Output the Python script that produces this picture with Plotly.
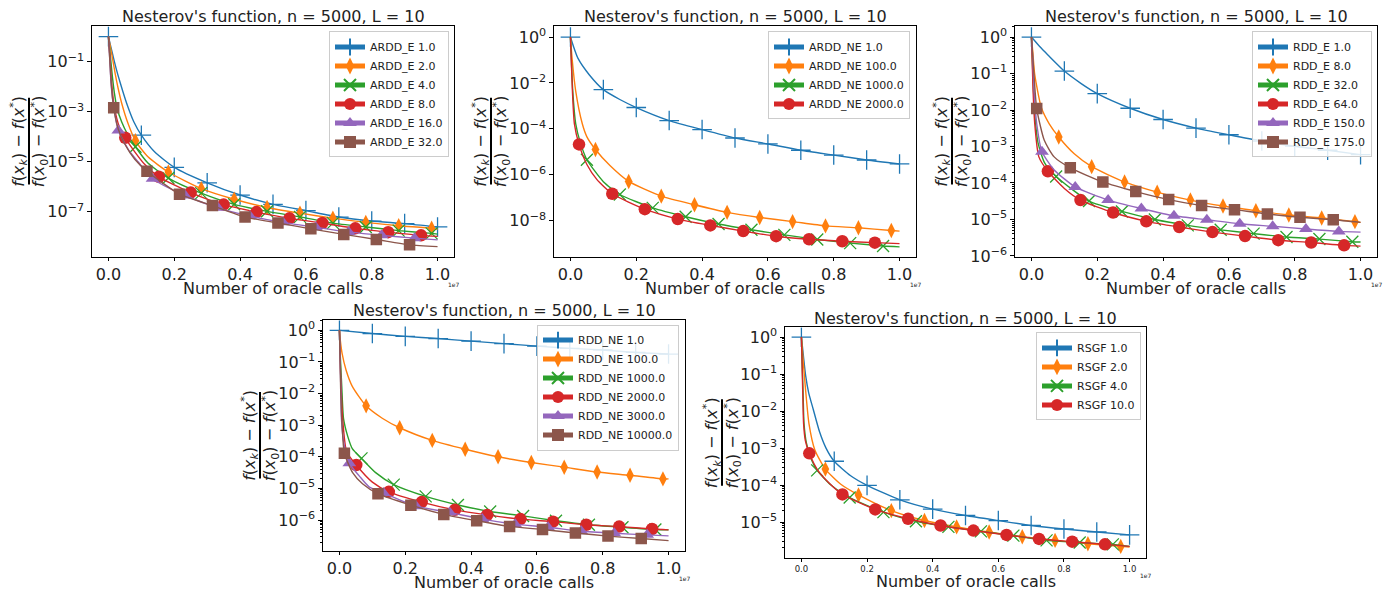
import plotly.graph_objects as go

W, H = 1387, 601
FONT = "DejaVu Sans"
TXT = "#222222"

# ---------------- tick labels ----------------
X_TICKVALS = [0.0, 0.2, 0.4, 0.6, 0.8, 1.0]          # units of 1e7 oracle calls
X_TICKTEXT = ["0.0", "0.2", "0.4", "0.6", "0.8", "1.0"]
Y_DECADES = [0, -1, -2, -3, -4, -5, -6, -7, -8]
Y_TICKTEXT = ["10<sup>0</sup>", "10<sup>−1</sup>", "10<sup>−2</sup>", "10<sup>−3</sup>",
              "10<sup>−4</sup>", "10<sup>−5</sup>", "10<sup>−6</sup>", "10<sup>−7</sup>",
              "10<sup>−8</sup>"]
P1_YTICKS = [-1, -3, -5, -7]
P2_YTICKS = [0, -2, -4, -6, -8]
P3_YTICKS = [0, -1, -2, -3, -4, -5, -6]
P4_YTICKS = [0, -1, -2, -3, -4, -5, -6]
P5_YTICKS = [0, -1, -2, -3, -4, -5]

TITLE = "Nesterov's function, n = 5000, L = 10"
XLABEL = "Number of oracle calls"

# ---------------- panel 1 : ARDD_E ----------------
A1_MX = [0.0, 0.1, 0.2, 0.3, 0.4, 0.5, 0.6, 0.7, 0.8, 0.9, 1.0]
A1_MY = [1.0, 1.15e-4, 6.0e-6, 1.45e-6, 4.7e-7, 2.0e-7, 1.12e-7, 6.2e-8, 4.3e-8, 3.4e-8, 2.5e-8]
A1_CX = [0.008, 0.018, 0.028, 0.044, 0.059, 0.077, 0.14]
A1_CY = [0.355, 0.1, 0.0316, 6.3e-3, 1.58e-3, 3.98e-4, 2.5e-5]

A2_MX = [0.082, 0.182, 0.282, 0.382, 0.482, 0.582, 0.682, 0.782, 0.882, 0.982]
A2_MY = [6.9e-5, 3.9e-6, 8.5e-7, 3.2e-7, 1.5e-7, 8.9e-8, 5.6e-8, 3.8e-8, 2.8e-8, 2.2e-8]
A2_CX = [0.0, 0.010, 0.020, 0.030, 0.040, 0.059, 0.12, 1.0]
A2_CY = [1.0, 0.2, 0.0355, 7.9e-3, 2.24e-3, 3.55e-4, 1.58e-5, 2.0e-8]

A3_MX = [0.082, 0.182, 0.282, 0.382, 0.482, 0.582, 0.682, 0.782, 0.882, 0.982]
A3_MY = [3.98e-5, 2.24e-6, 5.6e-7, 2.0e-7, 1.05e-7, 6.3e-8, 3.55e-8, 2.5e-8, 1.78e-8, 1.38e-8]
A3_CX = [0.0, 0.006, 0.012, 0.018, 0.026, 0.04, 0.058, 0.12, 1.0]
A3_CY = [1.0, 0.158, 0.0251, 5.6e-3, 1.41e-3, 3.98e-4, 1.26e-4, 8.9e-6, 1.29e-8]

A4_MX = [0.051, 0.153, 0.25, 0.35, 0.45, 0.55, 0.65, 0.75, 0.85, 0.95]
A4_MY = [9.1e-5, 2.5e-6, 5.9e-7, 1.95e-7, 9.8e-8, 5.5e-8, 3.6e-8, 2.2e-8, 1.55e-8, 1.15e-8]
A4_CX = [0.0, 0.005, 0.010, 0.018, 0.033, 0.08, 0.11, 1.0]
A4_CY = [1.0, 0.126, 0.0126, 1.48e-3, 2.5e-4, 2.5e-5, 7.9e-6, 1.05e-8]

A5_MX = [0.030, 0.134, 0.233, 0.333, 0.43, 0.53, 0.63, 0.73, 0.83, 0.93]
A5_MY = [1.78e-4, 2.1e-6, 4.5e-7, 1.45e-7, 6.8e-8, 3.8e-8, 2.4e-8, 1.58e-8, 1.15e-8, 8.9e-9]
A5_CX = [0.0, 0.004, 0.008, 0.016, 0.06, 0.09, 1.0]
A5_CY = [1.0, 0.126, 0.0126, 1.48e-3, 3.16e-5, 1.0e-5, 7.6e-9]

A6_MX = [0.016, 0.117, 0.216, 0.316, 0.415, 0.515, 0.615, 0.715, 0.814, 0.915]
A6_MY = [1.45e-3, 4.2e-6, 5.1e-7, 1.78e-7, 6.2e-8, 3.6e-8, 2.1e-8, 1.26e-8, 7.9e-9, 4.8e-9]
A6_CX = [0.0, 0.004, 0.008, 0.03, 0.05, 0.08, 1.0]
A6_CY = [1.0, 0.126, 0.0158, 2.0e-4, 5.0e-5, 1.26e-5, 4.1e-9]

# ---------------- panel 2 : ARDD_NE ----------------
B1_MX = [0.0, 0.1, 0.2, 0.3, 0.4, 0.5, 0.6, 0.7, 0.8, 0.9, 1.0]
B1_MY = [1.0, 5.1e-3, 8.5e-4, 2.3e-4, 9.3e-5, 4.0e-5, 2.2e-5, 1.17e-5, 7.2e-6, 4.4e-6, 2.95e-6]
B1_CX = [0.008, 0.023, 0.057, 0.15]
B1_CY = [0.437, 0.117, 0.0229, 1.9e-3]

B2_MX = [0.076, 0.177, 0.276, 0.377, 0.476, 0.575, 0.675, 0.775, 0.875, 0.975]
B2_MY = [1.26e-5, 5.1e-7, 1.17e-7, 4.9e-8, 2.3e-8, 1.38e-8, 9.1e-9, 5.9e-9, 4.9e-9, 3.7e-9]
B2_CX = [0.0, 0.005, 0.016, 0.036, 0.05, 0.12, 1.0]
B2_CY = [1.0, 0.117, 4.4e-3, 1.66e-4, 4.5e-5, 2.5e-6, 3.5e-9]

B3_MX = [0.05, 0.15, 0.25, 0.35, 0.45, 0.55, 0.65, 0.75, 0.85, 0.95]
B3_MY = [4.5e-6, 1.38e-7, 3.6e-8, 1.48e-8, 7.1e-9, 4.0e-9, 2.4e-9, 1.51e-9, 1.05e-9, 7.9e-10]
B3_CX = [0.0, 0.003, 0.007, 0.016, 0.03, 0.1, 1.0]
B3_CY = [1.0, 0.079, 4.4e-3, 1.66e-4, 2.5e-5, 5.0e-7, 7.2e-10]

B4_MX = [0.026, 0.127, 0.226, 0.326, 0.425, 0.525, 0.625, 0.725, 0.826, 0.925]
B4_MY = [2.1e-5, 1.48e-7, 3.16e-8, 1.17e-8, 6.2e-9, 3.5e-9, 2.1e-9, 1.55e-9, 1.26e-9, 1.1e-9]
B4_CX = [0.0, 0.003, 0.006, 0.012, 0.05, 0.08, 1.0]
B4_CY = [1.0, 0.063, 4.4e-3, 1.66e-4, 2.8e-6, 6.3e-7, 1.0e-9]

# ---------------- panel 3 : RDD_E ----------------
C1_MX = [0.0, 0.1, 0.2, 0.3, 0.4, 0.5, 0.6, 0.7, 0.8, 0.9, 1.0]
C1_MY = [1.0, 0.117, 0.0282, 0.0112, 5.5e-3, 3.2e-3, 2.1e-3, 1.41e-3, 1.02e-3, 7.9e-4, 6.0e-4]
C1_CX = [0.025, 0.05, 0.15]
C1_CY = [0.55, 0.324, 0.054]

C2_MX = [0.083, 0.183, 0.283, 0.382, 0.483, 0.582, 0.682, 0.782, 0.882, 0.983]
C2_MY = [1.82e-3, 2.8e-4, 1.07e-4, 5.6e-5, 3.4e-5, 2.34e-5, 1.74e-5, 1.32e-5, 1.1e-5, 8.7e-6]
C2_CX = [0.0, 0.004, 0.010, 0.030, 0.054, 0.13, 1.0]
C2_CY = [1.0, 0.398, 0.093, 0.0117, 4.2e-3, 6.3e-4, 8.3e-6]

C3_MX = [0.075, 0.175, 0.275, 0.375, 0.475, 0.575, 0.675, 0.775, 0.875, 0.975]
C3_MY = [1.51e-4, 3.2e-5, 1.66e-5, 1.0e-5, 6.9e-6, 5.2e-6, 4.1e-6, 3.3e-6, 2.9e-6, 2.45e-6]
C3_CX = [0.0, 0.005, 0.01, 0.02, 0.04, 1.0]
C3_CY = [1.0, 0.063, 7.9e-3, 1.26e-3, 3.55e-4, 2.4e-6]

C4_MX = [0.05, 0.149, 0.248, 0.349, 0.449, 0.55, 0.649, 0.75, 0.85, 0.95]
C4_MY = [2.1e-4, 3.4e-5, 1.55e-5, 8.9e-6, 6.2e-6, 4.5e-6, 3.5e-6, 2.7e-6, 2.34e-6, 1.95e-6]
C4_CX = [0.0, 0.005, 0.01, 0.0225, 0.1, 1.0]
C4_CY = [1.0, 0.033, 4.2e-3, 5.2e-4, 7.1e-5, 1.86e-6]

C5_MX = [0.032, 0.133, 0.233, 0.334, 0.433, 0.533, 0.633, 0.733, 0.834, 0.934]
C5_MY = [7.2e-4, 7.8e-5, 3.4e-5, 2.0e-5, 1.26e-5, 9.8e-6, 7.6e-6, 6.5e-6, 5.5e-6, 4.7e-6]
C5_CX = [0.0, 0.004, 0.008, 0.016, 0.07, 1.0]
C5_CY = [1.0, 0.251, 0.033, 4.2e-3, 2.24e-4, 4.5e-6]

C6_MX = [0.016, 0.118, 0.217, 0.317, 0.417, 0.517, 0.617, 0.717, 0.816, 0.917]
C6_MY = [0.011, 2.6e-4, 1.07e-4, 5.8e-5, 3.5e-5, 2.4e-5, 1.86e-5, 1.41e-5, 1.15e-5, 9.8e-6]
C6_CX = [0.0, 0.006, 0.039, 0.069, 1.0]
C6_CY = [1.0, 0.158, 1.48e-3, 5.2e-4, 8.3e-6]

# ---------------- panel 4 : RDD_NE ----------------
D1_MX = [0.0, 0.1, 0.2, 0.3, 0.4, 0.5, 0.6, 0.7, 0.8, 0.9, 1.0]
D1_MY = [1.0, 0.794, 0.646, 0.55, 0.457, 0.38, 0.316, 0.269, 0.24, 0.2, 0.178]
D1_CX = []
D1_CY = []

D2_MX = [0.081, 0.183, 0.282, 0.382, 0.482, 0.583, 0.683, 0.783, 0.883, 0.983]
D2_MY = [4.1e-3, 8.3e-4, 3.3e-4, 1.74e-4, 1.0e-4, 6.6e-5, 4.7e-5, 3.3e-5, 2.6e-5, 2.0e-5]
D2_CX = [0.0, 0.003, 0.008, 0.020, 0.039, 0.13, 1.0]
D2_CY = [1.0, 0.447, 0.186, 0.056, 0.017, 1.66e-3, 2.0e-5]

D3_MX = [0.067, 0.165, 0.262, 0.36, 0.458, 0.558, 0.658, 0.758, 0.86, 0.96]
D3_MY = [8.9e-5, 1.32e-5, 5.6e-6, 3.0e-6, 1.86e-6, 1.35e-6, 9.5e-7, 7.1e-7, 5.9e-7, 5.0e-7]
D3_CX = [0.0, 0.003, 0.007, 0.0125, 0.025, 0.039, 0.11, 1.0]
D3_CY = [1.0, 0.126, 0.017, 1.58e-3, 4.5e-4, 1.82e-4, 3.16e-5, 4.9e-7]

D4_MX = [0.051, 0.150, 0.25, 0.351, 0.449, 0.55, 0.649, 0.75, 0.85, 0.95]
D4_MY = [5.5e-5, 7.8e-6, 3.7e-6, 2.1e-6, 1.45e-6, 1.07e-6, 8.9e-7, 7.1e-7, 6.2e-7, 5.2e-7]
D4_CX = [0.0, 0.003, 0.0097, 0.0218, 0.1, 1.0]
D4_CY = [1.0, 0.063, 1.58e-3, 1.45e-4, 1.58e-5, 4.9e-7]

D5_MX = [0.030, 0.134, 0.233, 0.335, 0.434, 0.534, 0.634, 0.735, 0.835, 0.935]
D5_MY = [6.2e-5, 7.2e-6, 2.75e-6, 1.74e-6, 1.07e-6, 7.4e-7, 5.9e-7, 4.4e-7, 3.8e-7, 3.4e-7]
D5_CX = [0.0, 0.002, 0.004, 0.006, 0.014, 0.06, 0.09, 1.0]
D5_CY = [1.0, 0.126, 0.017, 1.58e-3, 2.5e-4, 2.5e-5, 1.12e-5, 3.16e-7]

D6_MX = [0.015, 0.117, 0.217, 0.317, 0.417, 0.517, 0.617, 0.717, 0.816, 0.917]
D6_MY = [1.29e-4, 6.8e-6, 2.95e-6, 1.51e-6, 9.5e-7, 6.3e-7, 5.0e-7, 3.9e-7, 3.1e-7, 2.6e-7]
D6_CX = [0.0, 0.002, 0.004, 0.008, 0.04, 0.07, 1.0]
D6_CY = [1.0, 0.1, 0.01, 1.0e-3, 3.16e-5, 1.41e-5, 2.24e-7]

# ---------------- panel 5 : RSGF ----------------
E1_MX = [0.0, 0.1, 0.2, 0.3, 0.4, 0.5, 0.6, 0.7, 0.8, 0.9, 1.0]
E1_MY = [1.0, 4.4e-4, 9.8e-5, 4.0e-5, 2.24e-5, 1.51e-5, 1.1e-5, 8.1e-6, 6.5e-6, 5.4e-6, 4.5e-6]
E1_CX = [0.006, 0.013, 0.022, 0.036, 0.055, 0.075, 0.15]
E1_CY = [0.316, 0.089, 0.0316, 0.0112, 2.8e-3, 1.0e-3, 1.78e-4]

E2_MX = [0.073, 0.174, 0.274, 0.375, 0.473, 0.572, 0.673, 0.773, 0.873, 0.973]
E2_MY = [2.7e-4, 5.4e-5, 2.04e-5, 1.1e-5, 7.4e-6, 5.4e-6, 4.0e-6, 3.2e-6, 2.6e-6, 2.2e-6]
E2_CX = [0.0, 0.005, 0.013, 0.023, 0.041, 0.12, 1.0]
E2_CY = [1.0, 0.251, 0.035, 4.6e-3, 8.9e-4, 1.05e-4, 2.1e-6]

E3_MX = [0.048, 0.147, 0.25, 0.349, 0.448, 0.547, 0.646, 0.747, 0.848, 0.949]
E3_MY = [2.5e-4, 4.6e-5, 1.86e-5, 1.05e-5, 7.4e-6, 5.6e-6, 4.3e-6, 3.2e-6, 2.8e-6, 2.5e-6]
E3_CX = [0.0, 0.002, 0.005, 0.008, 0.015, 0.03, 0.09, 1.0]
E3_CY = [1.0, 0.2, 0.035, 4.6e-3, 1.41e-3, 5.0e-4, 1.0e-4, 2.2e-6]

E4_MX = [0.024, 0.125, 0.225, 0.325, 0.424, 0.524, 0.625, 0.724, 0.825, 0.925]
E4_MY = [7.2e-4, 5.6e-5, 2.2e-5, 1.23e-5, 8.1e-6, 5.9e-6, 4.5e-6, 3.5e-6, 2.95e-6, 2.5e-6]
E4_CX = [0.0, 0.002, 0.004, 0.0066, 0.012, 0.05, 0.085, 1.0]
E4_CY = [1.0, 0.2, 0.035, 4.6e-3, 1.58e-3, 2.5e-4, 1.12e-4, 2.2e-6]

# ---------------- styles ----------------
C_BLUE, C_ORANGE, C_GREEN, C_RED, C_PURPLE, C_BROWN = (
    "#1f77b4", "#ff7f0e", "#2ca02c", "#d62728", "#9467bd", "#8c564b")
STYLE = {
    "plus": ("cross-thin", 14, True),
    "diamond": ("diamond-tall", 11, False),
    "x": ("x-thin", 12, True),
    "circle": ("circle", 12.5, False),
    "triangle": ("triangle-up", 12, False),
    "square": ("square", 11.5, False),
}

SERIES = [
    (1, "ARDD_E 1.0", C_BLUE, "plus", A1_MX, A1_MY, A1_CX, A1_CY),
    (1, "ARDD_E 2.0", C_ORANGE, "diamond", A2_MX, A2_MY, A2_CX, A2_CY),
    (1, "ARDD_E 4.0", C_GREEN, "x", A3_MX, A3_MY, A3_CX, A3_CY),
    (1, "ARDD_E 8.0", C_RED, "circle", A4_MX, A4_MY, A4_CX, A4_CY),
    (1, "ARDD_E 16.0", C_PURPLE, "triangle", A5_MX, A5_MY, A5_CX, A5_CY),
    (1, "ARDD_E 32.0", C_BROWN, "square", A6_MX, A6_MY, A6_CX, A6_CY),
    (2, "ARDD_NE 1.0", C_BLUE, "plus", B1_MX, B1_MY, B1_CX, B1_CY),
    (2, "ARDD_NE 100.0", C_ORANGE, "diamond", B2_MX, B2_MY, B2_CX, B2_CY),
    (2, "ARDD_NE 1000.0", C_GREEN, "x", B3_MX, B3_MY, B3_CX, B3_CY),
    (2, "ARDD_NE 2000.0", C_RED, "circle", B4_MX, B4_MY, B4_CX, B4_CY),
    (3, "RDD_E 1.0", C_BLUE, "plus", C1_MX, C1_MY, C1_CX, C1_CY),
    (3, "RDD_E 8.0", C_ORANGE, "diamond", C2_MX, C2_MY, C2_CX, C2_CY),
    (3, "RDD_E 32.0", C_GREEN, "x", C3_MX, C3_MY, C3_CX, C3_CY),
    (3, "RDD_E 64.0", C_RED, "circle", C4_MX, C4_MY, C4_CX, C4_CY),
    (3, "RDD_E 150.0", C_PURPLE, "triangle", C5_MX, C5_MY, C5_CX, C5_CY),
    (3, "RDD_E 175.0", C_BROWN, "square", C6_MX, C6_MY, C6_CX, C6_CY),
    (4, "RDD_NE 1.0", C_BLUE, "plus", D1_MX, D1_MY, D1_CX, D1_CY),
    (4, "RDD_NE 100.0", C_ORANGE, "diamond", D2_MX, D2_MY, D2_CX, D2_CY),
    (4, "RDD_NE 1000.0", C_GREEN, "x", D3_MX, D3_MY, D3_CX, D3_CY),
    (4, "RDD_NE 2000.0", C_RED, "circle", D4_MX, D4_MY, D4_CX, D4_CY),
    (4, "RDD_NE 3000.0", C_PURPLE, "triangle", D5_MX, D5_MY, D5_CX, D5_CY),
    (4, "RDD_NE 10000.0", C_BROWN, "square", D6_MX, D6_MY, D6_CX, D6_CY),
    (5, "RSGF 1.0", C_BLUE, "plus", E1_MX, E1_MY, E1_CX, E1_CY),
    (5, "RSGF 2.0", C_ORANGE, "diamond", E2_MX, E2_MY, E2_CX, E2_CY),
    (5, "RSGF 4.0", C_GREEN, "x", E3_MX, E3_MY, E3_CX, E3_CY),
    (5, "RSGF 10.0", C_RED, "circle", E4_MX, E4_MY, E4_CX, E4_CY),
]

# panel geometry in pixels (left, right, top, bottom), log y-range, y ticks
PANELS = {
    1: dict(l=92, r=454, t=25, b=260, yr=[-8.79, 0.44], yt=P1_YTICKS, minor=False,
            xfs=16, xlab=32, e7=28, leg=(449, 31)),
    2: dict(l=554, r=916, t=25, b=260, yr=[-9.57, 0.50], yt=P2_YTICKS, minor=False,
            xfs=16, xlab=32, e7=28, leg=(910, 31)),
    3: dict(l=1015, r=1377, t=25, b=260, yr=[-6.02, 0.315], yt=P3_YTICKS, minor=True,
            xfs=16, xlab=32, e7=28, leg=(1372, 31)),
    4: dict(l=323, r=685, t=324, b=559, yr=[-6.97, 0.34], yt=P4_YTICKS, minor=True,
            xfs=16, xlab=32, e7=28, leg=(679, 329)),
    5: dict(l=785, r=1146, t=332, b=566, yr=[-5.96, 0.26], yt=P5_YTICKS, minor=True,
            xfs=8.5, xlab=24, e7=18, leg=(1141, 337)),
}


def fx(p):
    return p / W


def fy(p):
    return 1 - p / H


fig = go.Figure()

for panel, name, color, kind, mx, my, cx, cy in SERIES:
    sym, msize, thin = STYLE[kind]
    pts = sorted([(x, y, True) for x, y in zip(mx, my)] +
                 [(x, y, False) for x, y in zip(cx, cy)], key=lambda p: p[0])
    xs = [p[0] for p in pts]
    ys = [p[1] for p in pts]
    sizes = [msize if p[2] else 0 for p in pts]
    marker = dict(symbol=sym, size=sizes, color=color, opacity=1)
    if thin:
        marker["line"] = dict(color=color, width=1.3)
    else:
        marker["line"] = dict(width=0)
    fig.add_trace(go.Scatter(
        x=xs, y=ys, mode="lines+markers", name=name,
        line=dict(color=color, width=1.4, shape="spline", smoothing=0.6),
        marker=marker,
        xaxis="x" if panel == 1 else f"x{panel}",
        yaxis="y" if panel == 1 else f"y{panel}",
        legend="legend" if panel == 1 else f"legend{panel}",
    ))

layout = dict(
    width=W, height=H, margin=dict(l=0, r=0, t=0, b=0),
    paper_bgcolor="white", plot_bgcolor="white",
    font=dict(family=FONT, color=TXT, size=16),
    showlegend=True, annotations=[], shapes=[],
)

for k, p in PANELS.items():
    xa = "xaxis" if k == 1 else f"xaxis{k}"
    ya = "yaxis" if k == 1 else f"yaxis{k}"
    xid = "x" if k == 1 else f"x{k}"
    yid = "y" if k == 1 else f"y{k}"
    layout[xa] = dict(
        domain=[fx(p["l"]), fx(p["r"])], anchor=yid, range=[-0.05, 1.05],
        tickmode="array", tickvals=X_TICKVALS, ticktext=X_TICKTEXT,
        ticks="outside", ticklen=3, tickwidth=1, tickcolor="black",
        showline=True, linecolor="black", linewidth=1.2, mirror=True,
        showgrid=False, zeroline=False, tickfont=dict(size=p["xfs"], color=TXT),
    )
    yaxis = dict(
        domain=[fy(p["b"]), fy(p["t"])], anchor=xid, type="log", range=p["yr"],
        tickmode="array", tickvals=[10.0 ** d for d in p["yt"]],
        ticktext=[Y_TICKTEXT[Y_DECADES.index(d)] for d in p["yt"]],
        ticks="outside", ticklen=3.5, tickwidth=1, tickcolor="black",
        showline=True, linecolor="black", linewidth=1.2, mirror=True,
        showgrid=False, zeroline=False, tickfont=dict(size=16, color=TXT),
    )
    if p["minor"]:
        yaxis["minor"] = dict(ticks="outside", ticklen=2, tickcolor="black",
                              dtick="D1", showgrid=False)
    layout[ya] = yaxis

    lg = "legend" if k == 1 else f"legend{k}"
    layout[lg] = dict(
        x=fx(p["leg"][0]), y=fy(p["leg"][1]), xanchor="right", yanchor="top",
        bgcolor="rgba(255,255,255,0.85)", bordercolor="#cccccc", borderwidth=1,
        font=dict(size=11, family=FONT, color=TXT), itemsizing="constant",
        tracegroupgap=0,
    )

    cxp = (p["l"] + p["r"]) / 2
    cyp = (p["t"] + p["b"]) / 2
    layout["annotations"].append(dict(
        text=TITLE, x=fx(cxp), y=fy(p["t"] - 9), xref="paper", yref="paper",
        xanchor="center", yanchor="middle", showarrow=False,
        font=dict(size=16, color=TXT)))
    layout["annotations"].append(dict(
        text=XLABEL, x=fx(cxp), y=fy(p["b"] + p["xlab"]), xref="paper", yref="paper",
        xanchor="center", yanchor="middle", showarrow=False,
        font=dict(size=16, color=TXT)))
    layout["annotations"].append(dict(
        text="1e7", x=fx(p["r"]), y=fy(p["b"] + p["e7"]), xref="paper", yref="paper",
        xanchor="center", yanchor="middle", showarrow=False,
        font=dict(size=6, color=TXT)))
    barx = p["l"] - 63
    layout["annotations"].append(dict(
        text=("<i>f</i>(<i>x</i><sub><i>k</i></sub>) − <i>f</i>(<i>x</i><sup>*</sup>)"
              "<br><i>f</i>(<i>x</i><sub>0</sub>) − <i>f</i>(<i>x</i><sup>*</sup>)"),
        x=fx(barx), y=fy(cyp), xref="paper", yref="paper", textangle=-90,
        xanchor="center", yanchor="middle", showarrow=False,
        font=dict(size=16, color=TXT)))
    layout["shapes"].append(dict(
        type="line", xref="paper", yref="paper",
        x0=fx(barx), x1=fx(barx), y0=fy(cyp - 44), y1=fy(cyp + 44),
        line=dict(color="black", width=2)))

fig.update_layout(**layout)
fig.write_html(
    "out.html",
    config={"displayModeBar": False},
    post_script="document.body.style.margin='0px';document.body.style.overflow='hidden';",
)
